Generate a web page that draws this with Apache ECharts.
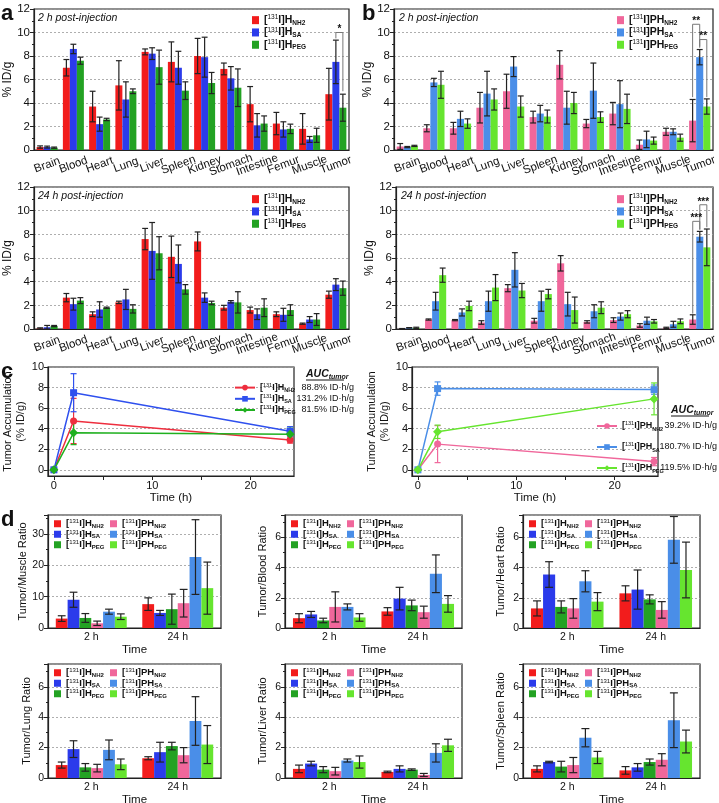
<!DOCTYPE html>
<html><head><meta charset="utf-8">
<script src="https://cdn.jsdelivr.net/npm/echarts@6/dist/echarts.min.js"></script>
<style>html,body{margin:0;padding:0;background:#fff}#c{width:719px;height:803px}</style>
</head><body><div id="c"></div>
<script>
const FONT = '"Liberation Sans", Arial, sans-serif';
const organs = ['Brain','Blood','Heart','Lung','Liver','Spleen','Kidney','Stomach','Intestine','Femur','Muscle','Tumor'];

// Panel a, 2 h post-injection (% ID/g, mean and SD)
const a2hNH2   = [0.25,7.0,3.7,5.5,8.35,7.5,8.0,6.9,3.9,2.25,1.8,4.75];
const a2hNH2Sd = [0.1,0.7,1.3,2.1,0.25,1.7,1.5,0.5,1.5,0.95,1.3,2.2];
const a2hSA    = [0.25,8.6,2.2,4.3,8.2,7.0,7.9,6.1,2.1,1.75,0.9,7.5];
const a2hSASd  = [0.08,0.4,0.6,1.5,0.5,1.4,1.7,1.0,1.0,0.65,0.25,1.85];
const a2hPEG   = [0.2,7.6,2.6,5.0,7.05,5.05,5.7,5.3,2.25,1.8,1.25,3.6];
const a2hPEGSd = [0.05,0.3,0.1,0.2,1.45,0.75,0.9,1.6,0.65,0.4,0.6,1.15];
// Panel a, 24 h
const a24hNH2   = [0.05,2.65,1.25,2.25,7.6,6.1,7.4,1.8,1.6,1.25,0.45,2.9];
const a24hNH2Sd = [0.05,0.35,0.2,0.1,0.9,1.75,0.8,0.2,0.25,0.2,0.05,0.3];
const a24hSA    = [0.15,2.1,1.65,2.5,6.6,5.5,2.65,2.3,1.25,1.2,0.8,3.75];
const a24hSASd  = [0.15,0.5,0.65,0.85,2.4,1.6,0.4,0.1,0.45,0.55,0.25,0.5];
const a24hPEG   = [0.25,2.4,1.8,1.7,6.4,3.35,2.2,2.25,1.8,1.6,0.8,3.45];
const a24hPEGSd = [0.05,0.25,0.05,0.35,1.4,0.4,0.15,0.9,0.75,0.45,0.5,0.6];
// Panel b, 2 h
const b2hNH2   = [0.3,1.85,1.85,3.6,5.0,2.8,7.25,2.25,3.1,0.45,1.55,2.5];
const b2hNH2Sd = [0.25,0.3,0.5,1.3,1.45,0.5,1.2,0.35,0.95,0.4,0.3,1.8];
const b2hSA    = [0.25,5.75,2.65,4.8,7.1,3.1,3.6,5.05,3.9,0.9,1.55,7.9];
const b2hSASd  = [0.05,0.35,0.65,1.9,0.85,0.7,1.4,2.35,2.0,0.7,0.25,0.65];
const b2hPEG   = [0.35,5.55,2.25,4.3,3.7,2.85,4.0,2.8,3.5,0.8,1.05,3.7];
const b2hPEGSd = [0.05,1.15,0.4,0.9,0.9,0.55,0.9,0.45,1.25,0.3,0.3,0.65];
// Panel b, 24 h
const b24hNH2   = [0.02,0.8,0.75,0.55,3.45,0.7,5.55,0.6,0.75,0.3,0.1,0.8];
const b24hNH2Sd = [0.02,0.05,0.05,0.15,0.3,0.2,0.65,0.1,0.2,0.15,0.05,0.4];
const b24hSA    = [0.1,2.35,1.4,2.35,5.0,2.35,2.1,1.5,1.05,0.7,0.4,7.8];
const b24hSASd  = [0.02,0.75,0.3,0.85,1.45,0.85,1.0,0.55,0.3,0.3,0.25,0.45];
const b24hPEG   = [0.1,4.55,1.95,3.5,3.25,2.95,1.6,1.8,1.25,0.65,0.65,6.9];
const b24hPEGSd = [0.05,0.6,0.4,1.1,0.6,0.4,1.1,0.5,0.3,0.15,0.2,1.55];
// significance brackets: [category, leftBar, rightBar, top, leftEnd, rightEnd]
const a2hBrackets = [[11,1,2,10.0,9.5,5.0]];
const a2hBracketLabels = ['*'];
const b2hBrackets = [[11,0,1,10.7,4.5,8.7],[11,1,2,9.4,8.8,4.5]];
const b2hBracketLabels = ['**','**'];
const b24hBrackets = [[11,1,2,10.5,8.4,8.6],[11,0,1,9.1,1.3,8.4]];
const b24hBracketLabels = ['***','***'];

// Panel c: tumor accumulation over time
const cTimes = [0,2,24];
const cH_NH2 = [0,4.75,2.9],  cH_NH2Sd = [0,2.2,0.3];
const cH_SA  = [0,7.5,3.75],  cH_SASd  = [0,1.85,0.45];
const cH_PEG = [0,3.6,3.45],  cH_PEGSd = [0,1.15,0.6];
const cPH_NH2 = [0,2.5,0.8],  cPH_NH2Sd = [0,1.8,0.4];
const cPH_SA  = [0,7.9,7.8],  cPH_SASd  = [0,0.65,0.45];
const cPH_PEG = [0,3.7,6.9],  cPH_PEGSd = [0,0.65,1.55];
const cLeftAuc  = ['88.8% ID·h/g','131.2% ID·h/g','81.5% ID·h/g'];
const cRightAuc = ['39.2% ID·h/g','180.7% ID·h/g','119.5% ID·h/g'];

// Panel d: ratios; order H_NH2, H_SA, H_PEG, PH_NH2, PH_SA, PH_PEG; each [2 h, 24 h]
const dGroups = ['2 h','24 h'];
const tumorMuscle   = [[3.0,7.6],[9.0,4.8],[3.2,6.0],[1.5,7.9],[5.2,22.6],[3.6,12.7]];
const tumorMuscleSd = [[0.9,2.0],[2.4,0.8],[1.4,4.8],[0.7,4.4],[0.8,11.9],[0.9,8.3]];
const tumorBlood    = [[0.65,1.1],[0.9,1.95],[0.5,1.5],[1.4,1.05],[1.4,3.6],[0.7,1.6]];
const tumorBloodSd  = [[0.3,0.25],[0.2,0.75],[0.15,0.35],[1.0,0.4],[0.2,1.25],[0.25,0.55]];
const tumorHeart    = [[1.3,2.3],[3.55,2.55],[1.4,1.9],[1.3,1.2],[3.1,5.85],[1.75,3.85]];
const tumorHeartSd  = [[0.5,0.5],[0.85,1.3],[0.4,0.3],[0.65,0.55],[0.7,1.55],[0.6,1.85]];
const tumorLung     = [[0.85,1.3],[1.9,1.7],[0.7,2.1],[0.65,1.5],[1.85,3.75],[0.9,2.2]];
const tumorLungSd   = [[0.2,0.1],[0.55,0.65],[0.25,0.25],[0.25,0.5],[0.65,1.6],[0.35,1.25]];
const tumorLiver    = [[0.6,0.4],[0.95,0.6],[0.55,0.55],[0.45,0.2],[1.15,1.65],[1.05,2.15]];
const tumorLiverSd  = [[0.25,0.05],[0.15,0.2],[0.2,0.05],[0.25,0.1],[0.1,0.6],[0.4,0.4]];
const tumorSpleen   = [[0.6,0.5],[1.05,0.7],[0.75,1.05],[0.85,1.2],[2.65,3.8],[1.35,2.4]];
const tumorSpleenSd = [[0.2,0.25],[0.05,0.25],[0.35,0.2],[0.5,0.4],[0.6,1.8],[0.4,0.75]];

const colH  = ['#F21C1C','#2B3BEB','#23A223'];
const colPH = ['#F0679B','#4A8EE8','#66E52F'];

const grids=[], xAxes=[], yAxes=[], series=[], legends=[], graphics=[];
const AX = '#222';

function lbl(name){
  const n = name.split(':').pop();
  const p = n.split('_');
  return '{b|[}{s|131}{b|I]' + p[0] + '}{u|' + p[1] + '}';
}
function rich(fs, sfs, lh){
  return {
    b:{fontSize:fs, fontWeight:'bold', fontFamily:FONT, color:'#111', lineHeight:lh},
    s:{fontSize:sfs, fontFamily:FONT, color:'#111', verticalAlign:'top'},
    u:{fontSize:sfs, fontWeight:'bold', fontFamily:FONT, color:'#111', verticalAlign:'bottom'}
  };
}
function errRender(n, i, gap, capF, color){
  return function(params, api){
    const v = api.value(1), e = api.value(2);
    if (!e) return null;
    const bw = api.size([1,0])[0];
    const barW = bw*(1-gap)/n;
    const off = (i-(n-1)/2)*barW;
    const t = api.coord([api.value(0), v+e]);
    const b = api.coord([api.value(0), Math.max(v-e, 0)]);
    const x = t[0]+off, c = barW*capF;
    const st = {stroke:color, lineWidth:1.2};
    return {type:'group', children:[
      {type:'line', shape:{x1:x,y1:t[1],x2:x,y2:b[1]}, style:st},
      {type:'line', shape:{x1:x-c,y1:t[1],x2:x+c,y2:t[1]}, style:st},
      {type:'line', shape:{x1:x-c,y1:b[1],x2:x+c,y2:b[1]}, style:st}
    ]};
  };
}
function bracketRender(n, gap, labels){
  return function(params, api){
    const cat = api.value(0), i1 = api.value(1), i2 = api.value(2);
    const bw = api.size([1,0])[0], barW = bw*(1-gap)/n;
    const c = api.coord([cat, api.value(3)]);
    const x1 = c[0]+(i1-(n-1)/2)*barW, x2 = c[0]+(i2-(n-1)/2)*barW;
    const yL = api.coord([cat, api.value(4)])[1], yR = api.coord([cat, api.value(5)])[1];
    return {type:'group', children:[
      {type:'polyline', shape:{points:[[x1,yL],[x1,c[1]],[x2,c[1]],[x2,yR]]}, style:{stroke:'#777', fill:null, lineWidth:1}},
      {type:'text', x:(x1+x2)/2, y:c[1]+2, style:{text:labels[params.dataIndex], align:'center', verticalAlign:'bottom', fontFamily:FONT, fontSize:10, fontWeight:'bold', fill:'#111'}}
    ]};
  };
}

function barPanel(p){
  const gi = grids.length;
  grids.push({left:p.left, top:p.top, width:p.width, height:p.height, show:true, borderColor:AX, borderWidth:1.2, containLabel:false, outerBoundsMode:'none'});
  xAxes.push({type:'category', gridIndex:gi, data:p.cats,
    name:p.xName||'', nameLocation:'middle', nameGap:p.xNameGap||0,
    nameTextStyle:{fontFamily:FONT, fontSize:11.5, color:'#111'},
    axisLine:{show:true, lineStyle:{color:AX, width:1.2}}, axisTick:{show:false},
    axisLabel:{interval:0, rotate:p.rotate||0, align:'center', verticalAlign:p.rotate?'middle':'top', margin:p.labelMargin, fontFamily:FONT, fontSize:p.catFont, color:'#111'}});
  yAxes.push({type:'value', gridIndex:gi, min:0, max:p.ymax, interval:p.interval,
    name:p.yName, nameLocation:'middle', nameGap:p.yNameGap,
    nameTextStyle:{fontFamily:FONT, fontSize:p.yNameFont||11.5, color:'#111'},
    axisLine:{show:true, lineStyle:{color:AX, width:1.2}},
    axisTick:{show:true, length:4, lineStyle:{color:AX}},
    minorTick:{show:true, splitNumber:2, length:2, lineStyle:{color:AX}},
    splitLine:{show:true, lineStyle:{type:[2,2], color:'#9a9a9a', width:0.8}},
    axisLabel:{showMaxLabel:p.showMax!==false, margin:4, fontFamily:FONT, fontSize:p.yFont||11.5, color:'#111'}});
  const n = p.series.length;
  p.series.forEach((s)=>{
    series.push({type:'bar', name:s.name, xAxisIndex:gi, yAxisIndex:gi, data:s.data,
      barGap:'0%', barCategoryGap:(p.gap*100)+'%', itemStyle:{color:s.color}, z:2, silent:true});
  });
  p.series.forEach((s,i)=>{
    series.push({type:'custom', xAxisIndex:gi, yAxisIndex:gi, renderItem:errRender(n,i,p.gap,p.cap,'#222'),
      encode:{x:0,y:1}, data:s.data.map((v,k)=>[k,v,s.sd[k]]), z:3, silent:true});
  });
  if (p.brackets){
    series.push({type:'custom', xAxisIndex:gi, yAxisIndex:gi, renderItem:bracketRender(n,p.gap,p.bracketLabels),
      encode:{x:0,y:3}, data:p.brackets, z:4, silent:true});
  }
}

// ---- panel a and b ----
const abCommon = {cats:organs, rotate:20, labelMargin:15, catFont:11.5, ymax:12, interval:2, gap:0.2, cap:0.42, yName:'% ID/g', yNameGap:17, yNameFont:12};
barPanel(Object.assign({}, abCommon, {left:34, top:9, width:315, height:141,
  series:[{name:'H_NH2',color:colH[0],data:a2hNH2,sd:a2hNH2Sd},{name:'H_SA',color:colH[1],data:a2hSA,sd:a2hSASd},{name:'H_PEG',color:colH[2],data:a2hPEG,sd:a2hPEGSd}],
  brackets:a2hBrackets, bracketLabels:a2hBracketLabels}));
barPanel(Object.assign({}, abCommon, {left:34, top:187, width:315, height:142,
  series:[{name:'H_NH2',color:colH[0],data:a24hNH2,sd:a24hNH2Sd},{name:'H_SA',color:colH[1],data:a24hSA,sd:a24hSASd},{name:'H_PEG',color:colH[2],data:a24hPEG,sd:a24hPEGSd}]}));
barPanel(Object.assign({}, abCommon, {left:394, top:9, width:319, height:141,
  series:[{name:'PH_NH2',color:colPH[0],data:b2hNH2,sd:b2hNH2Sd},{name:'PH_SA',color:colPH[1],data:b2hSA,sd:b2hSASd},{name:'PH_PEG',color:colPH[2],data:b2hPEG,sd:b2hPEGSd}],
  brackets:b2hBrackets, bracketLabels:b2hBracketLabels}));
barPanel(Object.assign({}, abCommon, {left:396, top:187, width:317, height:142,
  series:[{name:'PH_NH2',color:colPH[0],data:b24hNH2,sd:b24hNH2Sd},{name:'PH_SA',color:colPH[1],data:b24hSA,sd:b24hSASd},{name:'PH_PEG',color:colPH[2],data:b24hPEG,sd:b24hPEGSd}],
  brackets:b24hBrackets, bracketLabels:b24hBracketLabels}));

function abLegend(left, top, names){
  legends.push({orient:'vertical', left:left, top:top, padding:0, itemWidth:7, itemHeight:8, itemGap:0,
    icon:'rect', selectedMode:false, data:names, formatter:lbl, textStyle:{rich:rich(10.5,6.5,12.3)}});
}
abLegend(252, 14, ['H_NH2','H_SA','H_PEG']);
abLegend(252, 193, ['H_NH2','H_SA','H_PEG']);
abLegend(617, 14, ['PH_NH2','PH_SA','PH_PEG']);
abLegend(617, 193, ['PH_NH2','PH_SA','PH_PEG']);

// ---- panel c ----
function linePanel(p){
  const gi = grids.length;
  grids.push({left:p.left, top:p.top, width:p.width, height:p.height, show:true, borderColor:AX, borderWidth:1.2, containLabel:false, outerBoundsMode:'none'});
  xAxes.push({type:'value', gridIndex:gi, min:-0.6, max:24.4,
    name:'Time (h)', nameLocation:'middle', nameGap:13, nameTextStyle:{fontFamily:FONT, fontSize:11.5, color:'#111'},
    axisLine:{show:true, onZero:false, lineStyle:{color:AX, width:1.2}},
    axisTick:{show:true, length:4, customValues:[0,5,10,15,20], lineStyle:{color:AX}},
    splitLine:{show:false},
    axisLabel:{customValues:[0,10,20], margin:4, fontFamily:FONT, fontSize:11, color:'#111'}});
  yAxes.push({type:'value', gridIndex:gi, min:-0.6, max:10,
    name:'Tumor Accumulation\n(% ID/g)', nameLocation:'middle', nameGap:12,
    nameTextStyle:{fontFamily:FONT, fontSize:11, color:'#111', lineHeight:13},
    axisLine:{show:true, onZero:false, lineStyle:{color:AX, width:1.2}},
    axisTick:{show:true, length:4, customValues:[0,2,4,6,8,10], lineStyle:{color:AX}},
    splitLine:{show:true, lineStyle:{type:[2,2], color:'#9a9a9a', width:0.8}},
    axisLabel:{customValues:[0,2,4,6,8,10], margin:4, fontFamily:FONT, fontSize:11, color:'#111'}});
  const syms = ['circle','rect','diamond'];
  p.series.forEach((s,i)=>{
    series.push({type:'line', name:s.name, xAxisIndex:gi, yAxisIndex:gi,
      data:cTimes.map((t,k)=>[t,s.data[k]]), symbol:syms[i], symbolSize:i===2?9:7,
      lineStyle:{color:s.color, width:1.5}, itemStyle:{color:s.color}, z:3, silent:true});
    series.push({type:'custom', xAxisIndex:gi, yAxisIndex:gi, encode:{x:0,y:1}, z:2, silent:true,
      data:cTimes.map((t,k)=>[t,s.data[k],s.sd[k]]),
      renderItem:function(params, api){
        const e = api.value(2); if(!e) return null;
        const t = api.coord([api.value(0), api.value(1)+e]);
        const b = api.coord([api.value(0), api.value(1)-e]);
        const st = {stroke:s.color, lineWidth:1.2};
        return {type:'group', children:[
          {type:'line', shape:{x1:t[0],y1:t[1],x2:t[0],y2:b[1]}, style:st},
          {type:'line', shape:{x1:t[0]-3,y1:t[1],x2:t[0]+3,y2:t[1]}, style:st},
          {type:'line', shape:{x1:t[0]-3,y1:b[1],x2:t[0]+3,y2:b[1]}, style:st}
        ]};
      }});
  });
  legends.push({orient:'vertical', left:p.legLeft, top:p.legTop, padding:0, itemWidth:p.legIconW, itemHeight:7, itemGap:p.legGap,
    selectedMode:false, data:p.series.map(s=>s.name), formatter:lbl, textStyle:{rich:rich(p.legFont,5.5,p.legLH)}});
  p.auc.forEach((t,i)=>{
    graphics.push({type:'text', x:p.aucRight, y:p.legTop + p.legLH/2 + i*(p.legLH+p.legGap),
      style:{text:t, align:'right', verticalAlign:'middle', fontFamily:FONT, fontSize:9, fill:'#111'}});
  });
  graphics.push({type:'text', x:p.aucHeadX, y:p.aucHeadY,
    style:{text:'{a|AUC}{t|tumor}', align:'left', verticalAlign:'middle',
      rich:{a:{fontFamily:FONT, fontSize:10.5, fontWeight:'bold', fontStyle:'italic', fill:'#111', lineHeight:13},
            t:{fontFamily:FONT, fontSize:7, fontWeight:'bold', fontStyle:'italic', fill:'#111', verticalAlign:'bottom'}}}});
  graphics.push({type:'line', shape:{x1:p.aucHeadX, y1:p.aucHeadY+6, x2:p.aucHeadX+38, y2:p.aucHeadY+6}, style:{stroke:'#111', lineWidth:1}});
}
linePanel({left:48, top:367, width:246, height:109,
  series:[{name:'c:H_NH2',color:'#EE2E3E',data:cH_NH2,sd:cH_NH2Sd},{name:'c:H_SA',color:'#2F50EE',data:cH_SA,sd:cH_SASd},{name:'c:H_PEG',color:'#1FB01F',data:cH_PEG,sd:cH_PEGSd}],
  legLeft:234, legTop:382, legGap:0, legLH:11.2, legIconW:20, legFont:9, auc:cLeftAuc, aucRight:354, aucHeadX:306, aucHeadY:374});
linePanel({left:412, top:367, width:246, height:109,
  series:[{name:'c:PH_NH2',color:colPH[0],data:cPH_NH2,sd:cPH_NH2Sd},{name:'c:PH_SA',color:colPH[1],data:cPH_SA,sd:cPH_SASd},{name:'c:PH_PEG',color:colPH[2],data:cPH_PEG,sd:cPH_PEGSd}],
  legLeft:596, legTop:420, legGap:9, legLH:12, legIconW:20, legFont:9, auc:cRightAuc, aucRight:717, aucHeadX:671, aucHeadY:410});

// ---- panel d ----
const dNames = ['H_NH2','H_SA','H_PEG','PH_NH2','PH_SA','PH_PEG'];
const dColors = [colH[0],colH[1],colH[2],colPH[0],colPH[1],colPH[2]];
function dPanel(left, top, width, height, mean, sd, ymax, interval, yName, yNameGap, showMax){
  barPanel({cats:dGroups, left:left, top:top, width:width, height:height, ymax:ymax, interval:interval,
    gap:0.18, cap:0.33, labelMargin:4, catFont:10.5, yName:yName, yNameGap:yNameGap, yNameFont:11, yFont:10.5,
    xName:'Time', xNameGap:12, showMax:showMax,
    series:dNames.map((nm,i)=>({name:'d:'+nm, color:dColors[i], data:mean[i], sd:sd[i]}))});
  const r = rich(9.5,6,10.5);
  legends.push({orient:'vertical', left:left+6, top:top+3.5, padding:0, itemWidth:7, itemHeight:7, itemGap:0,
    icon:'rect', selectedMode:false, data:['d:H_NH2','d:H_SA','d:H_PEG'], formatter:lbl, textStyle:{rich:r}});
  legends.push({orient:'vertical', left:left+62, top:top+3.5, padding:0, itemWidth:7, itemHeight:7, itemGap:0,
    icon:'rect', selectedMode:false, data:['d:PH_NH2','d:PH_SA','d:PH_PEG'], formatter:lbl, textStyle:{rich:r}});
}
dPanel(48, 515, 173, 113, tumorMuscle, tumorMuscleSd, 36, 10, 'Tumor/Muscle Ratio', 16, false);
dPanel(285, 515, 177, 113, tumorBlood, tumorBloodSd, 7.5, 2, 'Tumor/Blood Ratio', 17, false);
dPanel(523, 515, 177, 113, tumorHeart, tumorHeartSd, 7.5, 2, 'Tumor/Heart Ratio', 17, false);
dPanel(48, 664, 173, 114, tumorLung, tumorLungSd, 7.5, 2, 'Tumor/Lung Ratio', 16, false);
dPanel(285, 664, 177, 114, tumorLiver, tumorLiverSd, 7.5, 2, 'Tumor/Liver Ratio', 17, false);
dPanel(523, 664, 177, 114, tumorSpleen, tumorSpleenSd, 7.5, 2, 'Tumor/Spleen Ratio', 17, false);

// ---- texts ----
function txt(x,y,t,style){ graphics.push({type:'text', x:x, y:y, style:Object.assign({text:t, fontFamily:FONT, fill:'#111', align:'left', verticalAlign:'middle'}, style)}); }
txt(1,14,'a',{fontSize:22, fontWeight:'bold'});
txt(362,14,'b',{fontSize:22, fontWeight:'bold'});
txt(1,372,'c',{fontSize:22, fontWeight:'bold'});
txt(1,520,'d',{fontSize:22, fontWeight:'bold'});
txt(38,18,'2 h post-injection',{fontSize:10.5, fontStyle:'italic'});
txt(38,196,'24 h post-injection',{fontSize:10.5, fontStyle:'italic'});
txt(399,18,'2 h post-injection',{fontSize:10.5, fontStyle:'italic'});
txt(401,196,'24 h post-injection',{fontSize:10.5, fontStyle:'italic'});

const chart = echarts.init(document.getElementById('c'), null, {renderer:'canvas'});
chart.setOption({animation:false, backgroundColor:'#fff', textStyle:{fontFamily:FONT},
  grid:grids, xAxis:xAxes, yAxis:yAxes, series:series, legend:legends, graphic:graphics, tooltip:{show:false}});
</script></body></html>
